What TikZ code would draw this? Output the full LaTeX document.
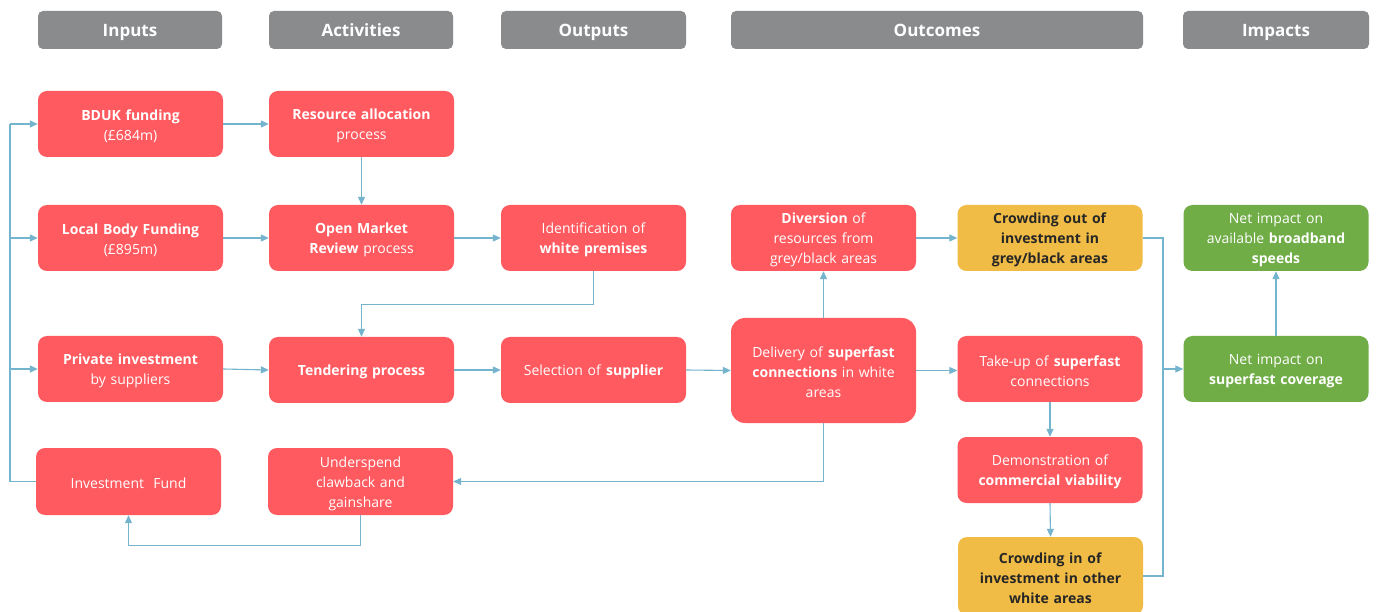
\documentclass[tikz,border=0pt]{standalone}
\usepackage{fontspec}
\setmainfont{Open Sans}
\usetikzlibrary{arrows.meta}
\definecolor{boxred}{HTML}{FF5A5F}
\definecolor{boxyellow}{HTML}{F0BC45}
\definecolor{boxgreen}{HTML}{70AD47}
\definecolor{headgray}{HTML}{898B8D}
\definecolor{linkblue}{HTML}{74B4CC}
\definecolor{darktext}{HTML}{262626}
\tikzset{
  box/.style={rounded corners=9pt, minimum width=185pt, minimum height=66pt,
    text width=183pt, align=center, inner sep=0pt,
    execute at begin node={\rule{0pt}{15pt}},
    font=\fontsize{14}{20}\selectfont, text=white},
  redbox/.style={box, fill=boxred},
  yelbox/.style={box, fill=boxyellow, text=darktext},
  grnbox/.style={box, fill=boxgreen},
  headbox/.style={rounded corners=5pt, fill=headgray, minimum height=38pt,
    inner sep=0pt, text height=14pt, text depth=0pt, text=white,
    font=\fontsize{17}{19}\selectfont\bfseries},
  conn/.style={draw=linkblue, line width=1.1pt, -{Triangle[length=8pt,width=7pt]}},
  plain/.style={draw=linkblue, line width=1.1pt},
}
\begin{document}
\begin{tikzpicture}[x=1pt,y=-1pt]
\fill[white] (0,0) rectangle (1377,612);
\useasboundingbox (0,0) rectangle (1377,612);

% headers
\node[headbox, minimum width=184pt] (hin) at (130,30) {Inputs};
\node[headbox, minimum width=184pt] (hact) at (361,30) {Activities};
\node[headbox, minimum width=185pt] (hout) at (593.5,30) {Outputs};
\node[headbox, minimum width=412pt] (hoc) at (937,30) {Outcomes};
\node[headbox, minimum width=186pt] (himp) at (1276,30) {Impacts};

% inputs
\node[redbox] (bduk) at (130.5,124) {\textbf{BDUK funding}\\(£684m)};
\node[redbox] (local) at (130.5,238) {\textbf{Local Body Funding}\\(£895m)};
\node[redbox] (priv) at (130.5,369) {\textbf{Private investment}\\by suppliers};
\node[redbox, minimum height=67pt] (fund) at (128.5,481.5) {Investment\ \ Fund};

% activities
\node[redbox] (res) at (361.5,124) {\textbf{Resource allocation}\\process};
\node[redbox] (omr) at (361.5,238) {\textbf{Open Market}\\\textbf{Review} process};
\node[redbox] (tend) at (361.5,370) {\textbf{Tendering process}};
\node[redbox, minimum height=67pt] (under) at (360.5,481.5) {Underspend\\clawback and\\gainshare};

% outputs
\node[redbox] (ident) at (593.5,238) {Identification of\\\textbf{white premises}};
\node[redbox] (sel) at (593.5,370) {Selection of \textbf{supplier}};

% outcomes
\node[redbox] (div) at (823.5,238) {\textbf{Diversion} of\\resources from\\grey/black areas};
\node[redbox, minimum height=105pt, rounded corners=14pt] (deliv) at (823.5,370.5) {Delivery of \textbf{superfast}\\\textbf{connections} in white\\areas};
\node[yelbox] (cout) at (1050,238) {\textbf{Crowding out of}\\\textbf{investment in}\\\textbf{grey/black areas}};
\node[redbox] (take) at (1050,369) {Take-up of \textbf{superfast}\\connections};
\node[redbox] (demo) at (1050,470) {Demonstration of\\\textbf{commercial viability}};
\node[yelbox, minimum height=78pt] (cin) at (1050.5,576) {\textbf{Crowding in of}\\\textbf{investment in other}\\\textbf{white areas}};

% impacts
\node[grnbox] (speed) at (1276,238) {Net impact on\\available \textbf{broadband}\\\textbf{speeds}};
\node[grnbox] (cov) at (1276,369) {Net impact on\\\textbf{superfast coverage}};

% connectors
\coordinate (lx) at (10,0);
\coordinate (rx) at (1163,0);

\draw[plain] (fund.west) -- (lx |- fund.west) -- (lx |- bduk.west);
\draw[conn] (lx |- bduk.west) -- (bduk.west);
\draw[conn] (lx |- local.west) -- (local.west);
\draw[conn] (lx |- priv.west) -- (priv.west);

\draw[conn] (bduk.east) -- (res.west);
\draw[conn] (res.south) -- (omr.north);
\draw[conn] (local.east) -- (omr.west);
\draw[conn] (omr.east) -- (ident.west);
\draw[conn] (ident.south) -- ++(0,33) -| (tend.north);
\draw[conn] (priv.east) -- (tend.west);
\draw[conn] (tend.east) -- (sel.west);
\draw[conn] (sel.east) -- (deliv.west);
\draw[conn] (deliv.east) -- (take.west |- deliv.east);
\draw[conn] (deliv.north) -- (div.south);
\draw[conn] (div.east) -- (cout.west);
\draw[conn] (deliv.south) |- (under.east);
\draw[conn] (under.south) -- ++(0,30) -| (fund.south);

\draw[conn] (take.south) -- (demo.north);
\draw[conn] (demo.south) -- (cin.north);

\draw[plain] (cout.east) -- (rx |- cout.east) -- (rx |- cin.east) -- (cin.east);
\draw[conn] (rx |- cov.west) -- (cov.west);
\draw[conn] (cov.north) -- (speed.south);
\end{tikzpicture}
\end{document}
